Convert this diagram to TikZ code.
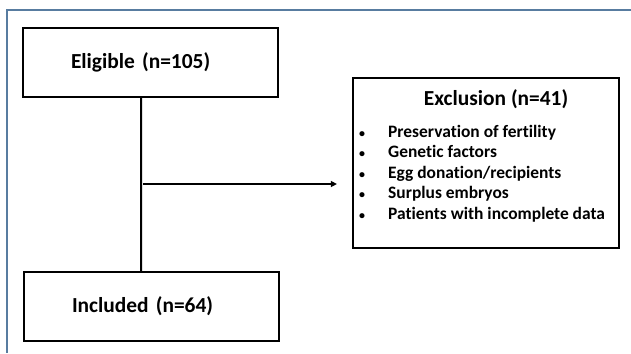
\documentclass[tikz,border=0pt]{standalone}
\usepackage{fontspec}
\setmainfont{Carlito}[Ligatures=NoCommon]
\usetikzlibrary{arrows.meta}
\definecolor{frameblue}{RGB}{88,124,160}

\begin{document}
\begin{tikzpicture}[x=1bp, y=-1bp,
		box/.style={draw, line width=2.2bp, minimum width=255bp, minimum height=69bp, inner sep=0pt, text width=159bp, align=left, font=\bfseries\fontsize{21.5}{25}\selectfont},
		head/.style={anchor=base, inner sep=0pt, font=\bfseries\fontsize{21.5}{25}\selectfont},
		item/.style={anchor=base west, inner sep=0pt, font=\bfseries\fontsize{17.5}{20}\selectfont},
		dot/.style={anchor=base, inner sep=0pt, font=\bfseries\fontsize{12}{14}\selectfont}]
		\useasboundingbox (0,0) rectangle (631,353);
		\draw[frameblue, line width=2bp] (631,10) -- (7,10) -- (7,353);

		\node [box] (elig) at (150.5,62.5) {Eligible (n=105)};
		\node [box] (incl) at (151.5,306.5) {Included (n=64)};
		\node [draw, line width=2.2bp, minimum width=266bp, minimum height=170bp] (excl) at (486,163) {};
		\node [head] (exhead) at (496,105) {Exclusion (n=41)};

		\foreach \txt [count=\i] in {Preservation of fertility, Genetic factors, Egg donation/recipients, Surplus embryos, Patients with incomplete data} {
			\node [dot]  (b\i) at (362,116.5+20.5*\i) {\textbullet};
			\node [item] (r\i) at (388,116.5+20.5*\i) {\txt};
		}

		\coordinate (split) at (143,184);
		\draw[line width=2bp] ([xshift=-9.5bp]elig.south) -- ([xshift=-10.5bp]incl.north);
		\draw[-{Triangle[length=6bp, width=6bp]}, line width=1.3bp, shorten >=15bp] (split) -- (split -| excl.west);
	\end{tikzpicture}
\end{document}
